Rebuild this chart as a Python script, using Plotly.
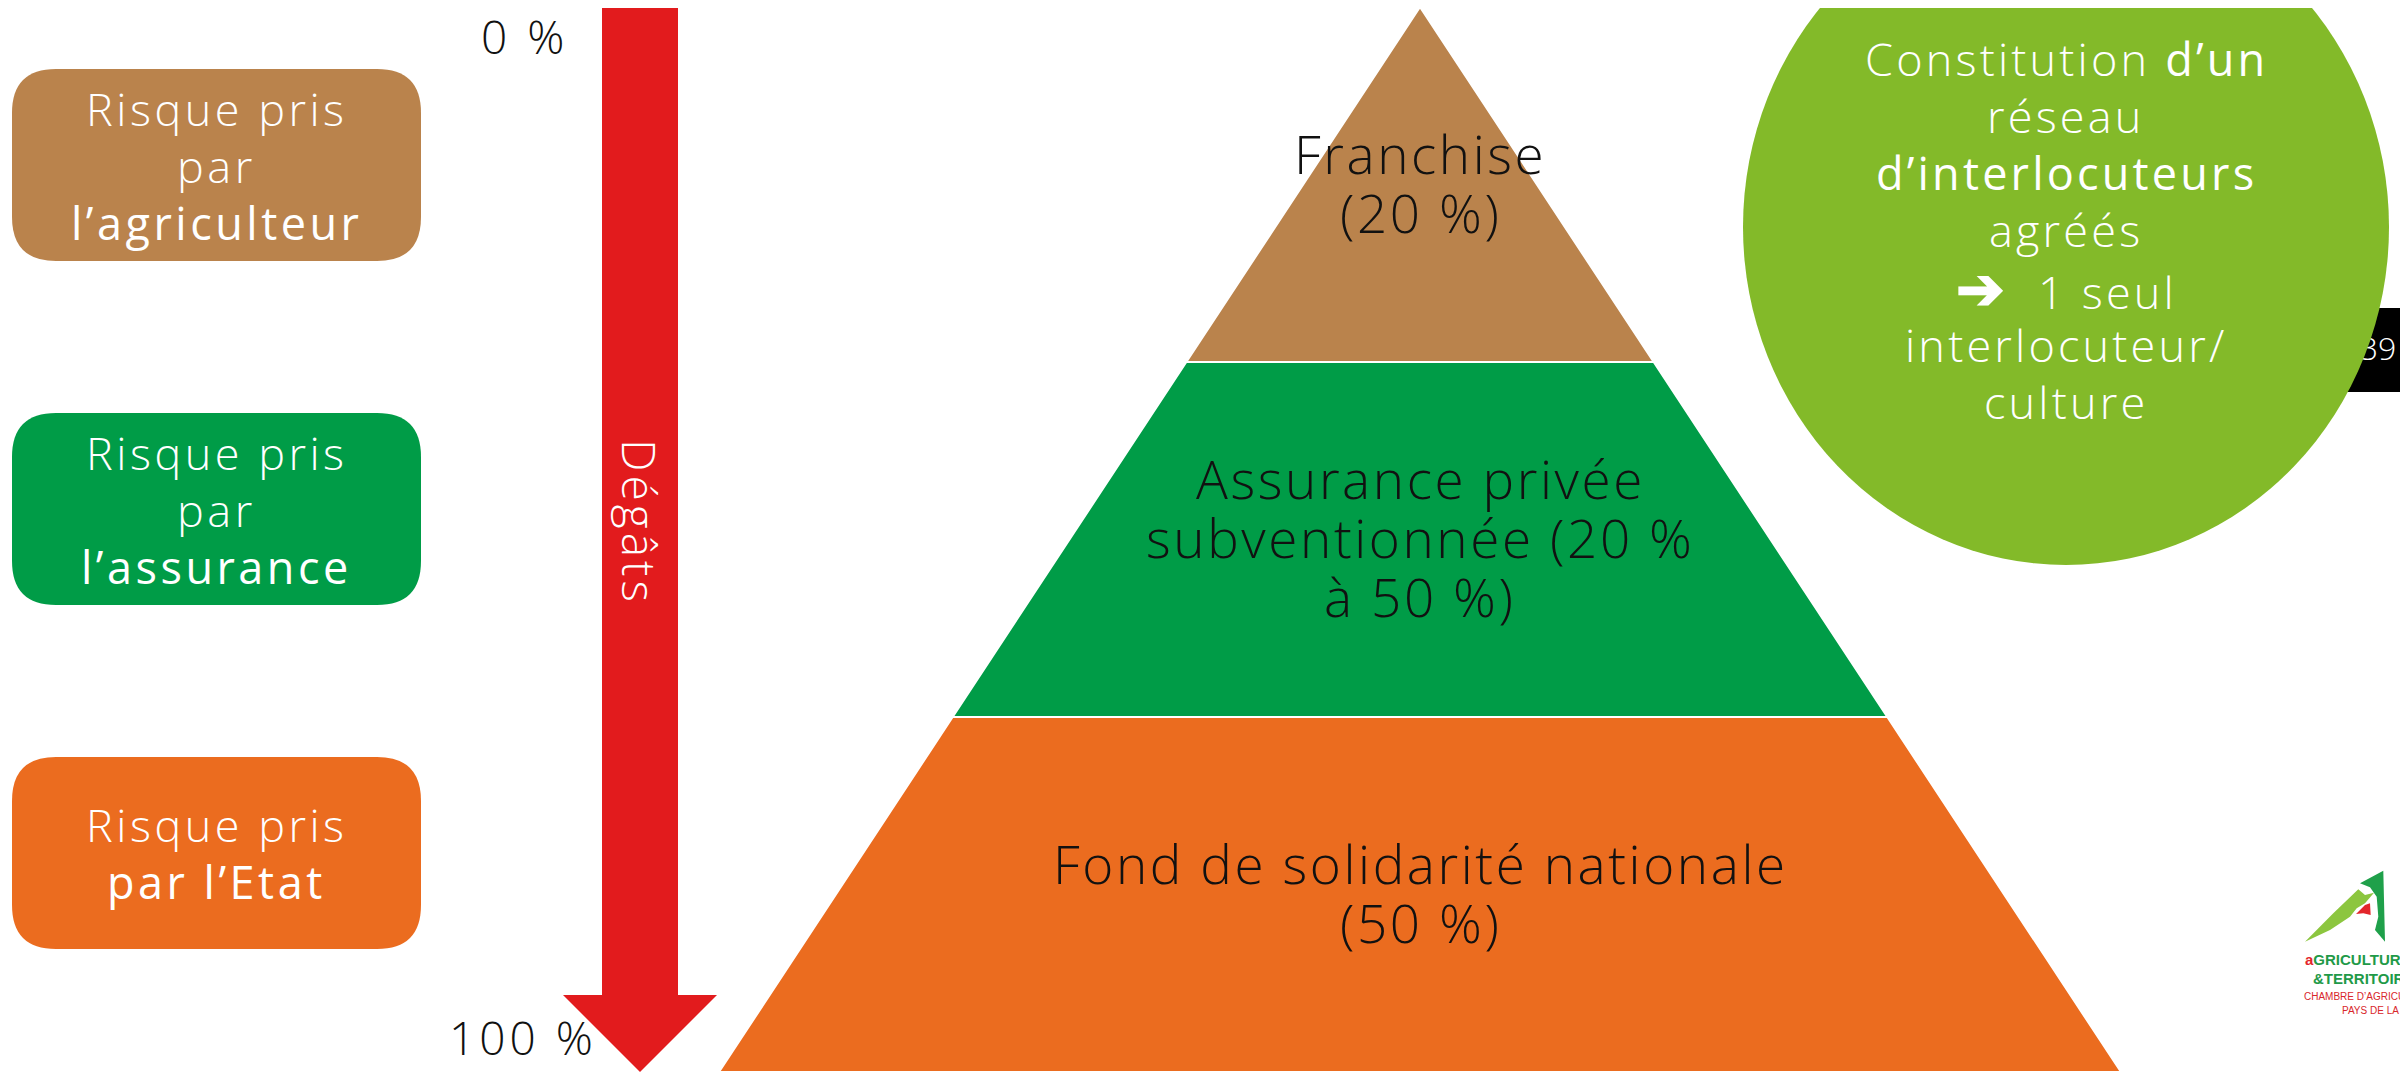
import plotly.graph_objects as go

# ------------------------------------------------------------------ data
layer_lines = [
    ["Franchise", "(20 %)"],
    ["Assurance privée", "subventionnée (20 %", "à 50 %)"],
    ["Fond de solidarité nationale", "(50 %)"],
]
risk_lines = [
    ["Risque pris", "par", "<E>l’agriculteur</E>"],
    ["Risque pris", "par", "<E>l’assurance</E>"],
    ["Risque pris", "<E>par l’Etat</E>"],
]
scale_labels = ["0 %", "100 %"]
arrow_label = "Dégâts"
circle_lines = [
    "Constitution <E>d’un</E>",
    "réseau",
    "<E>d’interlocuteurs</E>",
    "agréés",
    "<A>➔</A>  1 seul",
    "interlocuteur/",
    "culture",
]
page_number = "39"

# ------------------------------------------------------------------ style
W, H = 2408, 1073
PAGE_MARGIN = 8  # default body margin of the html page
FONT = "Open Sans"
LAYER_COLORS = ["#BA834C", "#009C47", "#EB6C1F"]
ARROW_RED = "#E21B1D"
LIME = "#83BA29"


def rich(s, ls):
    s = s.replace("<E>", "<span style='font-weight:400'>").replace("</E>", "</span>")
    s = s.replace("<A>", "<span style='font-size:58px;font-weight:700'>").replace("</A>", "</span>")
    return f"<span style='letter-spacing:{ls}px'>{s}</span>" if ls else s


fig = go.Figure()
annotations = []
shapes = []


def label(x, y, text, size, color, angle=0, ls=0):
    annotations.append(dict(
        x=x, y=y, xref="x", yref="y", text=rich(text, ls), showarrow=False,
        xanchor="center", yanchor="middle", textangle=angle,
        font=dict(family=FONT, size=size, color=color, weight=300),
    ))


# ------------------------------------------------------------------ pyramid
apex_x, apex_y, base_y, half_w = 1420, 7, 1072, 701
n = len(layer_lines)
band = (base_y - apex_y) / n
for i, lines in enumerate(layer_lines):
    ya, yb = apex_y + i * band, apex_y + (i + 1) * band
    wa = half_w * (ya - apex_y) / (base_y - apex_y)
    wb = half_w * (yb - apex_y) / (base_y - apex_y)
    xs = [apex_x - wa, apex_x + wa, apex_x + wb, apex_x - wb, apex_x - wa]
    ys = [ya, ya, yb, yb, ya]
    fig.add_trace(go.Scatter(x=xs, y=ys, fill="toself", fillcolor=LAYER_COLORS[i],
                             mode="lines", line=dict(color="white", width=2),
                             hoverinfo="skip", showlegend=False))
    yc = (ya + yb) / 2
    step = 59
    for k, t in enumerate(lines):
        label(apex_x, yc + (k - (len(lines) - 1) / 2) * step - 2, t, 53, "#111111", ls=2.6)

# ------------------------------------------------------------------ arrow
ax, shaft_half, head_half, top_y, head_y, tip_y = 640, 38, 77, 5, 995, 1072
fig.add_trace(go.Scatter(
    x=[ax - shaft_half, ax + shaft_half, ax + shaft_half, ax + head_half, ax,
       ax - head_half, ax - shaft_half, ax - shaft_half],
    y=[top_y, top_y, head_y, head_y, tip_y, head_y, head_y, top_y],
    fill="toself", fillcolor=ARROW_RED, mode="lines", line=dict(width=0, color=ARROW_RED),
    hoverinfo="skip", showlegend=False))
label(ax, 522, arrow_label, 46, "white", angle=90, ls=4)
label(524, 36, scale_labels[0], 46, "#111111", ls=4)
label(523, 1037, scale_labels[1], 46, "#111111", ls=4)

# ------------------------------------------------------------------ risk boxes


def rrect(x0, y0, x1, y1, r):
    return (f"M{x0+r},{y0} L{x1-r},{y0} Q{x1},{y0} {x1},{y0+r} L{x1},{y1-r} "
            f"Q{x1},{y1} {x1-r},{y1} L{x0+r},{y1} Q{x0},{y1} {x0},{y1-r} "
            f"L{x0},{y0+r} Q{x0},{y0} {x0+r},{y0} Z")


bx0, bx1, by0, bh, bgap = 12, 421, 69, 192, 344
for i, lines in enumerate(risk_lines):
    y0 = by0 + i * bgap
    shapes.append(dict(type="path", path=rrect(bx0, y0, bx1, y0 + bh, 44),
                       fillcolor=LAYER_COLORS[i], line=dict(width=0), layer="below"))
    yc = y0 + bh / 2
    for k, t in enumerate(lines):
        label((bx0 + bx1) / 2, yc + (k - (len(lines) - 1) / 2) * 57, t, 45, "white", ls=3.5)

# ------------------------------------------------------------------ page number box
shapes.append(dict(type="rect", x0=2347, x1=W, y0=308, y1=392, fillcolor="black",
                   line=dict(width=0), layer="below"))
fig.add_trace(go.Scatter(x=[2378], y=[352], mode="text", text=[page_number],
                         textfont=dict(family=FONT, size=32, color="white", weight=300),
                         hoverinfo="skip", showlegend=False))

# ------------------------------------------------------------------ circle
cx, cy, rx, ry = 2066, 227, 323, 338
shapes.append(dict(type="circle", x0=cx - rx, x1=cx + rx, y0=cy - ry, y1=cy + ry,
                   fillcolor=LIME, line=dict(width=0), layer="above"))
for k, t in enumerate(circle_lines):
    label(cx, 58 + k * 57.2, t, 45, "white", ls=3.2)

# ------------------------------------------------------------------ logo (decoration)
lx, ly = 2250, 850
def P(pts):
    return "M" + " L".join(f"{lx + a / 3:.1f},{ly + b / 3:.1f}" for a, b in pts) + " Z"
shapes.append(dict(type="path", path=P([(165, 275), (250, 190), (325, 118), (345, 135),
                                         (372, 128), (345, 160), (320, 175), (300, 200), (240, 240)]),
                   fillcolor="#8CC63F", line=dict(width=0), layer="below"))
shapes.append(dict(type="path", path=P([(330, 100), (400, 62), (405, 275), (375, 240),
                                         (385, 200), (380, 140), (360, 112)]),
                   fillcolor="#1FA04A", line=dict(width=0), layer="below"))
shapes.append(dict(type="path", path=P([(318, 192), (345, 165), (360, 160), (362, 195), (340, 190)]),
                   fillcolor="#E3262B", line=dict(width=0), layer="below"))
for t, x, y, s, c, wt in [
    ("<span style='color:#E3262B'>a</span>GRICULTURE", 2303, 959, 15, "#1F9A48", 700),
    ("&amp;TERRITOIRES", 2311, 978, 15, "#1F9A48", 700),
    ("CHAMBRE D’AGRICULTURE", 2302, 996, 10, "#D8262B", 400),
    ("PAYS DE LA LOIRE", 2340, 1010, 10, "#D8262B", 400),
]:
    annotations.append(dict(x=x, y=y, xref="x", yref="y", text=t, showarrow=False,
                            xanchor="left", yanchor="middle",
                            font=dict(family="Liberation Sans Narrow, Liberation Sans, Arial",
                                      size=s, color=c, weight=wt)))

# the page has an 8px body margin: size/offset the plot so data units == window pixels
fig.update_layout(
    width=W - PAGE_MARGIN, height=H - PAGE_MARGIN, margin=dict(l=0, r=0, t=0, b=0),
    paper_bgcolor="white", plot_bgcolor="white",
    xaxis=dict(range=[PAGE_MARGIN, W], visible=False, fixedrange=True),
    yaxis=dict(range=[H, PAGE_MARGIN], visible=False, fixedrange=True),
    shapes=shapes, annotations=annotations, showlegend=False,
)
fig.write_html("out.html")
